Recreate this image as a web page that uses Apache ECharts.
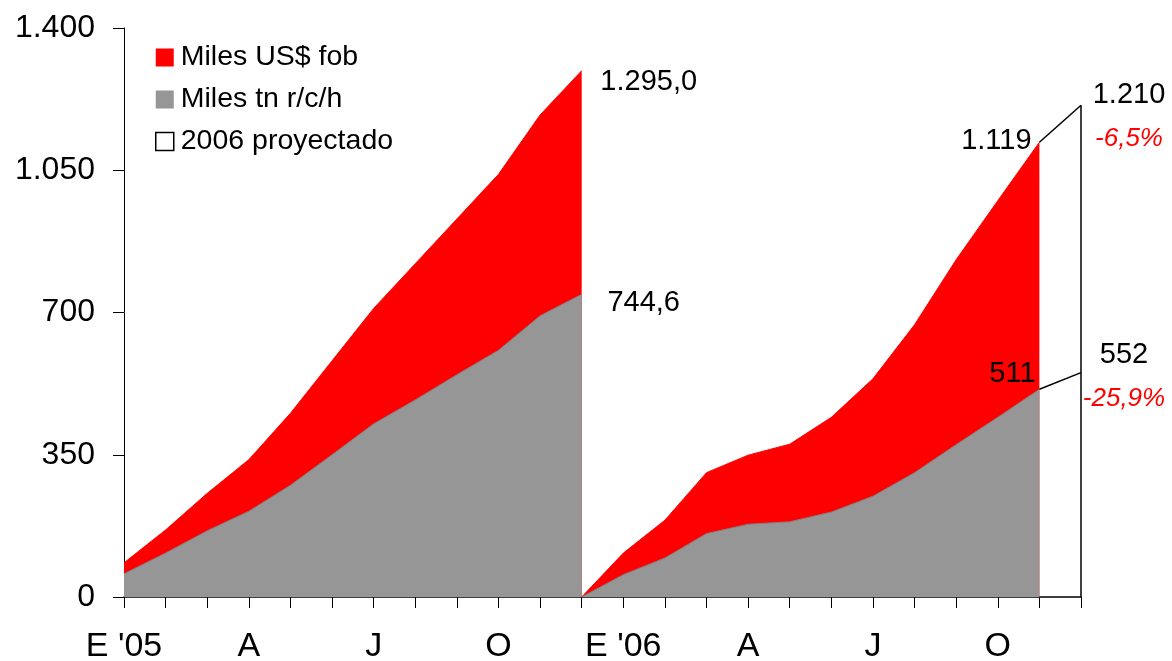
<!DOCTYPE html>
<html>
<head>
<meta charset="utf-8">
<script src="https://cdn.jsdelivr.net/npm/echarts@6/dist/echarts.min.js"></script>
<style>
html,body{margin:0;padding:0;background:#fff;}
#chart{width:1172px;height:661px;}
</style>
</head>
<body>
<div id="chart"></div>
<script>
// ---- data ----
const categories = ['Ene-05','Feb-05','Mar-05','Abr-05','May-05','Jun-05','Jul-05','Ago-05','Sep-05','Oct-05','Nov-05','Dic-05',
                    'Ene-06','Feb-06','Mar-06','Abr-06','May-06','Jun-06','Jul-06','Ago-06','Sep-06','Oct-06','Nov-06','Dic-06'];
const tickLabels = ["E '05","","","A","","","J","","","O","","","E '06","","","A","","","J","","","O","",""];
const yTicks = [0, 350, 700, 1050, 1400];
// cumulative 2005 (Jan..Dec)
const usd2005 = [84,165,255,338,452,581,710,820,930,1040,1186,1295.0];
const tn2005  = [57,108,163,211,275,350,426,485,547,607,692,744.6];
// cumulative 2006, starting from origin 0 at Dec-05, then Jan..Nov
const usd2006 = [0,108,189,306,349,376,442,537,670,830,975,1119];
const tn2006  = [0,55,96,156,179,185,209,248,306,375,442,511];
// projection Nov-06 -> Dic-06
const usdProj = [1119,1210];
const tnProj  = [511,552];
const pctChange = [-6.5, -25.9];

// ---- helpers ----
function fmt(v, dec){
  let s = v.toFixed(dec);
  let parts = s.split('.');
  let ip = parts[0].replace(/\B(?=(\d{3})+(?!\d))/g, '.');
  return parts.length>1 ? ip + ',' + parts[1] : ip;
}
function fmtPct(v){ return fmt(v,1) + '%'; }
function build(arr, start, labels){
  const out = new Array(categories.length).fill(null);
  arr.forEach((v,i)=>{
    const idx = start+i;
    if (labels && labels[i]) out[idx] = {value:v, label:labels[i]};
    else out[idx] = v;
  });
  return out;
}
const FONT = 'Liberation Sans, Arial, sans-serif';
function lab(text, offset, extra){
  return Object.assign({show:true, position:'inside', formatter:text, offset:offset,
    color:'#000', fontSize:29, fontFamily:FONT, align:'center', verticalAlign:'middle'}, extra||{});
}
const richStyles = {
  v:{color:'#000', fontSize:29, fontFamily:FONT, lineHeight:44, align:'center'},
  p:{color:'#ff0000', fontSize:26, fontStyle:'italic', fontFamily:FONT, lineHeight:44, align:'center'}
};

const RED = '#ff0000', GRAY = '#969696';
const lastIdx = categories.length-1;

const usd05Labels = []; usd05Labels[usd2005.length-1] = lab(fmt(usd2005[usd2005.length-1],1), [67,11]);
const tn05Labels = []; tn05Labels[tn2005.length-1] = lab(fmt(tn2005[tn2005.length-1],1), [62,8.5]);
const usd06Labels = []; usd06Labels[usd2006.length-1] = lab(fmt(usd2006[usd2006.length-1],0), [-43,-1]);
const tn06Labels = []; tn06Labels[tn2006.length-1] = lab(fmt(tn2006[tn2006.length-1],0), [-27,-15.5]);
const usdProjLabels = []; usdProjLabels[1] = lab('{v|'+fmt(usdProj[1],0)+'}\n{p|'+fmtPct(pctChange[0])+'}', [48,12], {rich:richStyles});
const tnProjLabels = []; tnProjLabels[1] = lab('{v|'+fmt(tnProj[1],0)+'}\n{p|'+fmtPct(pctChange[1])+'}', [43,4], {rich:richStyles});

function areaSeries(name, data, color, lineColor, z){
  return {
    name:name, type:'line', data:data, z:z,
    symbol:'circle', symbolSize:1, showSymbol:true,
    itemStyle:{color:'rgba(0,0,0,0)'},
    lineStyle:{color:lineColor, width:1},
    areaStyle:{color:color, opacity:1},
    emphasis:{disabled:true}, silent:true,
    label:{show:false}
  };
}

const option = {
  animation:false,
  backgroundColor:'#fff',
  textStyle:{fontFamily:FONT},
  grid:{left:124, right:91, top:28, bottom:64, containLabel:false, outerBoundsMode:'none'},
  legend:{
    orient:'vertical', left:155, top:43, itemGap:13, itemWidth:18, itemHeight:18, padding:0,
    textStyle:{fontSize:28.5, color:'#000', fontFamily:FONT, padding:[0,0,0,2]},
    selectedMode:false,
    data:[
      {name:'Miles US$ fob', icon:'rect', itemStyle:{color:RED, borderWidth:0}},
      {name:'Miles tn r/c/h', icon:'rect', itemStyle:{color:GRAY, borderWidth:0}},
      {name:'2006 proyectado', icon:'rect', itemStyle:{color:'#fff', borderColor:'#000', borderWidth:1.5}}
    ]
  },
  xAxis:{
    type:'category', data:categories, boundaryGap:false,
    axisLine:{show:true, lineStyle:{color:'#000', width:1.5}},
    axisTick:{show:true, interval:0, length:11, lineStyle:{color:'#000', width:1}},
    axisLabel:{interval:0, margin:33, fontSize:34, color:'#000', fontFamily:FONT,
      formatter:function(v, i){ return tickLabels[i]; }},
    splitLine:{show:false}
  },
  yAxis:{
    type:'value', min:yTicks[0], max:yTicks[yTicks.length-1], interval:yTicks[1]-yTicks[0],
    axisLine:{show:true, lineStyle:{color:'#000', width:1}},
    axisTick:{show:true, length:11, lineStyle:{color:'#000', width:1}},
    axisLabel:{margin:29, fontSize:32, color:'#000', fontFamily:FONT,
      formatter:function(v){ return fmt(v,0); }},
    splitLine:{show:false}
  },
  series:[
    areaSeries('Miles US$ fob', build(usd2005, 0, usd05Labels), RED, RED, 2),
    areaSeries('Miles US$ fob', build(usd2006, 11, usd06Labels), RED, RED, 2),
    areaSeries('Miles tn r/c/h', build(tn2005, 0, tn05Labels), GRAY, '#808080', 3),
    areaSeries('Miles tn r/c/h', build(tn2006, 11, tn06Labels), GRAY, '#808080', 3),
    {
      name:'2006 proyectado', type:'line', z:4, silent:true,
      data:build(usdProj, lastIdx-1, usdProjLabels),
      symbol:'circle', symbolSize:1, showSymbol:true,
      itemStyle:{color:'rgba(0,0,0,0)'},
      lineStyle:{color:'#000', width:1.5},
      markLine:{
        silent:true, symbol:'none', animation:false,
        label:{show:false},
        lineStyle:{color:'#000', width:1.5, type:'solid'},
        data:[[{coord:[categories[lastIdx], yTicks[0]]},{coord:[categories[lastIdx], usdProj[1]]}]]
      }
    },
    {
      name:'2006 proyectado', type:'line', z:4, silent:true,
      data:build(tnProj, lastIdx-1, tnProjLabels),
      symbol:'circle', symbolSize:1, showSymbol:true,
      itemStyle:{color:'rgba(0,0,0,0)'},
      lineStyle:{color:'#000', width:1.5}
    }
  ]
};
const chart = echarts.init(document.getElementById('chart'), null, {renderer:'canvas'});
chart.setOption(option);
</script>
</body>
</html>
